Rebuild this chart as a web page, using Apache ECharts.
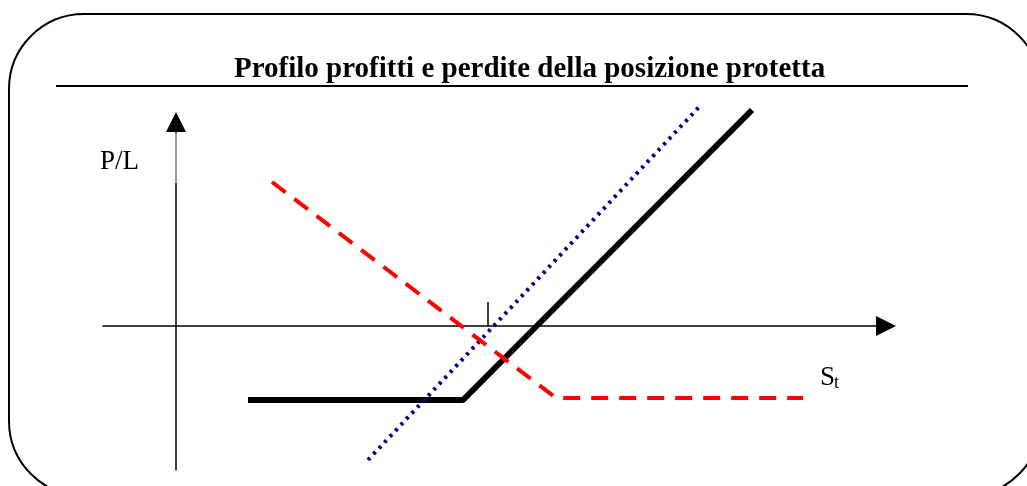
<!DOCTYPE html>
<html style="height: 100%">
<head>
<meta charset="utf-8">
<script type="text/javascript" src="https://cdn.jsdelivr.net/npm/echarts@6/dist/echarts.min.js"></script>
</head>
<body style="height: 100%; margin: 0; background: #fff">
	<div id="container" style="height: 486px; width: 1027px;"></div>
	<script type="text/javascript">
		// dati del grafico (unita' arbitrarie, origine sugli assi)
		var xRange = [-7.3, 71.0];
		var yRange = [-14.4, 20.4];
		var posizioneProtetta = [[7.2, -7.4], [28.7, -7.4], [57.6, 21.6]];
		var azione = [[19.2, -13.4], [52.4, 22.0]];
		var put = [[9.6, 14.4], [38.0, -7.2], [62.7, -7.2]];
		var tacca = [[31.2, 0], [31.2, 2.4]];
		var assePLGrigio = [[0, 14.3], [0, 19.3]];

		var dom = document.getElementById("container");
		var myChart = echarts.init(dom);
		var serif = "'Liberation Serif', 'Times New Roman', serif";

		function segmento(data, color, width, type) {
			return {
				type: 'line',
				data: data,
				symbol: 'none',
				silent: true,
				clip: false,
				animation: false,
				lineStyle: { color: color, width: width, type: type }
			};
		}

		var option = {
			animation: false,
			title: {
				text: 'Profilo profitti e perdite della posizione protetta',
				left: 229,
				top: 50,
				textStyle: { fontFamily: serif, fontWeight: 'bold', fontSize: 29, color: '#000' }
			},
			grid: { left: 103, right: 141, top: 122, bottom: 16 },
			xAxis: {
				type: 'value',
				min: xRange[0],
				max: xRange[1],
				axisLine: { onZero: true, symbol: ['none', 'triangle'], symbolSize: [20, 20], lineStyle: { color: '#000', width: 1.5 } },
				axisTick: { show: false },
				axisLabel: { show: false },
				splitLine: { show: false }
			},
			yAxis: {
				type: 'value',
				min: yRange[0],
				max: yRange[1],
				axisLine: { onZero: true, symbol: ['none', 'triangle'], symbolSize: [20, 20], lineStyle: { color: '#000', width: 1.5 } },
				axisTick: { show: false },
				axisLabel: { show: false },
				splitLine: { show: false }
			},
			graphic: [
				{
					type: 'rect',
					shape: { x: 9, y: 14, width: 1032, height: 482, r: 75 },
					style: { fill: 'none', stroke: '#000', lineWidth: 2 }
				},
				{
					type: 'line',
					shape: { x1: 56, y1: 86, x2: 968, y2: 86 },
					style: { stroke: '#000', lineWidth: 2 }
				},
				{
					type: 'text',
					left: 100,
					top: 148,
					style: { text: 'P/L', font: '27px ' + serif, fill: '#000' }
				},
				{
					type: 'text',
					left: 820,
					top: 364,
					style: { text: 'S', font: '27px ' + serif, fill: '#000' }
				},
				{
					type: 'text',
					left: 834,
					top: 374,
					style: { text: 't', font: '18px ' + serif, fill: '#000' }
				}
			],
			series: [
				segmento(assePLGrigio, '#bbb', 1.5, 'solid'),
				segmento(tacca, '#000', 1.5, 'solid'),
				segmento(posizioneProtetta, '#000', 6, 'solid'),
				segmento(azione, '#000080', 4, [3, 5]),
				segmento(put, '#ff0000', 4, [17, 11])
			]
		};

		if (option && typeof option === "object") {
			myChart.setOption(option, true);
		}
	</script>
</body>
</html>
